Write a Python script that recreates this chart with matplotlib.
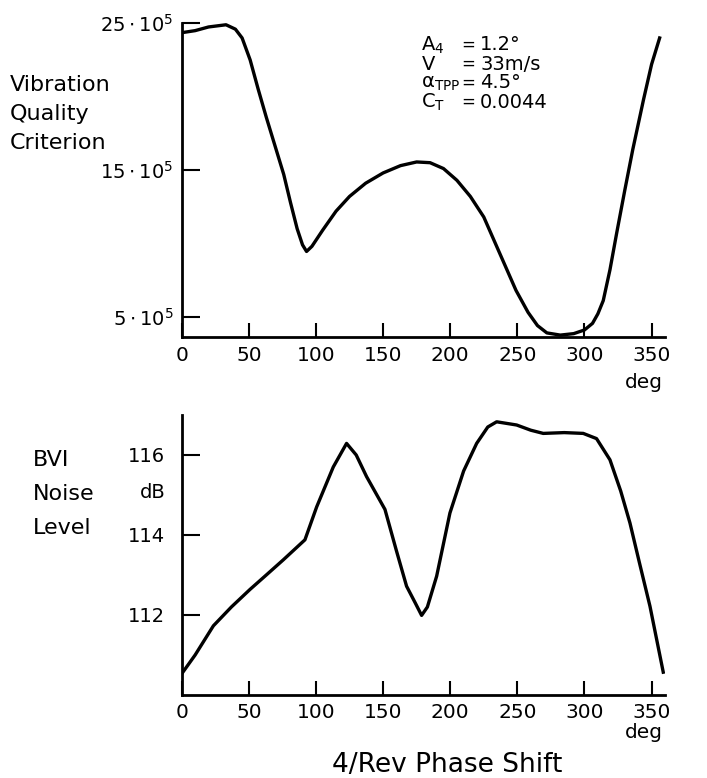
import matplotlib
matplotlib.use("Agg")
import matplotlib.pyplot as plt

# Data
vqc_deg = [0, 10, 20, 33, 40, 45, 51, 57, 63, 70, 76, 81, 86, 90, 93, 97, 105, 115, 125, 137,
           150, 163, 175, 185, 195, 205, 215, 225, 237, 249, 258, 265, 272, 282, 292, 300,
           306, 310, 314, 319, 324, 330, 336, 344, 350, 356]
vqc_val = [24.36, 24.5, 24.75, 24.9, 24.6, 24.0, 22.5, 20.5, 18.6, 16.5, 14.7, 12.8, 11.0, 9.9,
           9.45, 9.8, 10.9, 12.2, 13.2, 14.1, 14.8, 15.3, 15.55, 15.5, 15.1, 14.3, 13.2, 11.8,
           9.3, 6.8, 5.3, 4.4, 3.9, 3.75, 3.85, 4.1, 4.55, 5.2, 6.1, 8.2, 10.7, 13.6, 16.4,
           19.8, 22.2, 24.0]

bvi_deg = [0, 10, 23.6, 37, 50.9, 63, 75.7, 91.8, 100.5, 112.9, 122.8, 130, 137.7, 151.4, 160,
           167.5, 174, 178.7, 183, 189.9, 199.8, 210, 219.7, 228, 234.6, 249.5, 260, 269.3,
           285, 299.1, 309, 319, 327, 333.9, 341, 348.8, 358.7]
bvi_val = [110.53, 111.0, 111.73, 112.2, 112.64, 113.0, 113.38, 113.88, 114.7, 115.7, 116.29,
           116.0, 115.46, 114.64, 113.6, 112.72, 112.3, 111.99, 112.2, 112.97, 114.55, 115.6,
           116.29, 116.7, 116.83, 116.75, 116.62, 116.54, 116.56, 116.54, 116.41, 115.88,
           115.1, 114.3, 113.3, 112.22, 110.57]

x_ticks = [0, 50, 100, 150, 200, 250, 300, 350]
vqc_ticks = [5, 15, 25]
vqc_tick_labels = [r"$5\cdot10^5$", r"$15\cdot10^5$", r"$25\cdot10^5$"]
bvi_ticks = [112, 114, 116]
bvi_tick_labels = ["112", "114", "116"]

plt.rcParams['font.family'] = ['DejaVu Sans']
plt.rcParams['mathtext.fontset'] = 'dejavusans'
plt.rcParams['mathtext.default'] = 'regular'

W, H = 707, 778
fig = plt.figure(figsize=(W / 100, H / 100), dpi=100)

def ax_rect(x0, x1, y0, y1):
    return [x0 / W, 1 - y1 / H, (x1 - x0) / W, (y1 - y0) / H]

ax1 = fig.add_axes(ax_rect(181.7, 665, 23.3, 337.3))
ax2 = fig.add_axes(ax_rect(181.7, 665, 415, 695))

for ax in (ax1, ax2):
    ax.spines['top'].set_visible(False)
    ax.spines['right'].set_visible(False)
    for s in ('left', 'bottom'):
        ax.spines[s].set_linewidth(2)
    ax.set_xlim(0, 360)
    ax.set_xticks(x_ticks)
    ax.set_xticklabels([str(t) for t in x_ticks], fontsize=14.5)
    ax.tick_params(axis='x', direction='in', length=10, width=1.5, pad=6)
    ax.tick_params(axis='y', direction='in', length=13, width=1.5, pad=6, labelsize=14)

ax1.plot(vqc_deg, vqc_val, color='black', lw=2.4)
ax1.set_ylim(3.6, 25)
ax1.set_yticks(vqc_ticks)
ax1.set_yticklabels(vqc_tick_labels)

ax2.plot(bvi_deg, bvi_val, color='black', lw=2.4)
ax2.set_ylim(110.0, 117.0)
ax2.set_yticks(bvi_ticks)
ax2.set_yticklabels(bvi_tick_labels)
ax2.tick_params(axis='y', pad=12)

def ft(x, y, s, **kw):
    fig.text(x / W, 1 - y / H, s, **kw)

ft(10, 114, "Vibration\nQuality\nCriterion", fontsize=16, ha='left', va='center', linespacing=1.55)
ft(33, 494, "BVI\nNoise\nLevel", fontsize=16, ha='left', va='center', linespacing=1.85)
ft(153, 492, "dB", fontsize=14, ha='center', va='center')
ft(644, 382, "deg", fontsize=14.5, ha='center', va='center')
ft(644, 733, "deg", fontsize=14.5, ha='center', va='center')
ft(447, 765, "4/Rev Phase Shift", fontsize=19, ha='center', va='center')

labels = [r"$A_4$", r"$V$", r"$\alpha_{TPP}$", r"$C_T$"]
values = ["1.2°", "33m/s", "4.5°", "0.0044"]
ys = [45, 64, 83, 102]
for lab, val, y in zip(labels, values, ys):
    ft(421, y, lab, fontsize=14, ha='left', va='center')
    ft(461, y, "=", fontsize=12, ha='left', va='center')
    ft(480, y, val, fontsize=14, ha='left', va='center')

fig.savefig("out.png", dpi=100)
